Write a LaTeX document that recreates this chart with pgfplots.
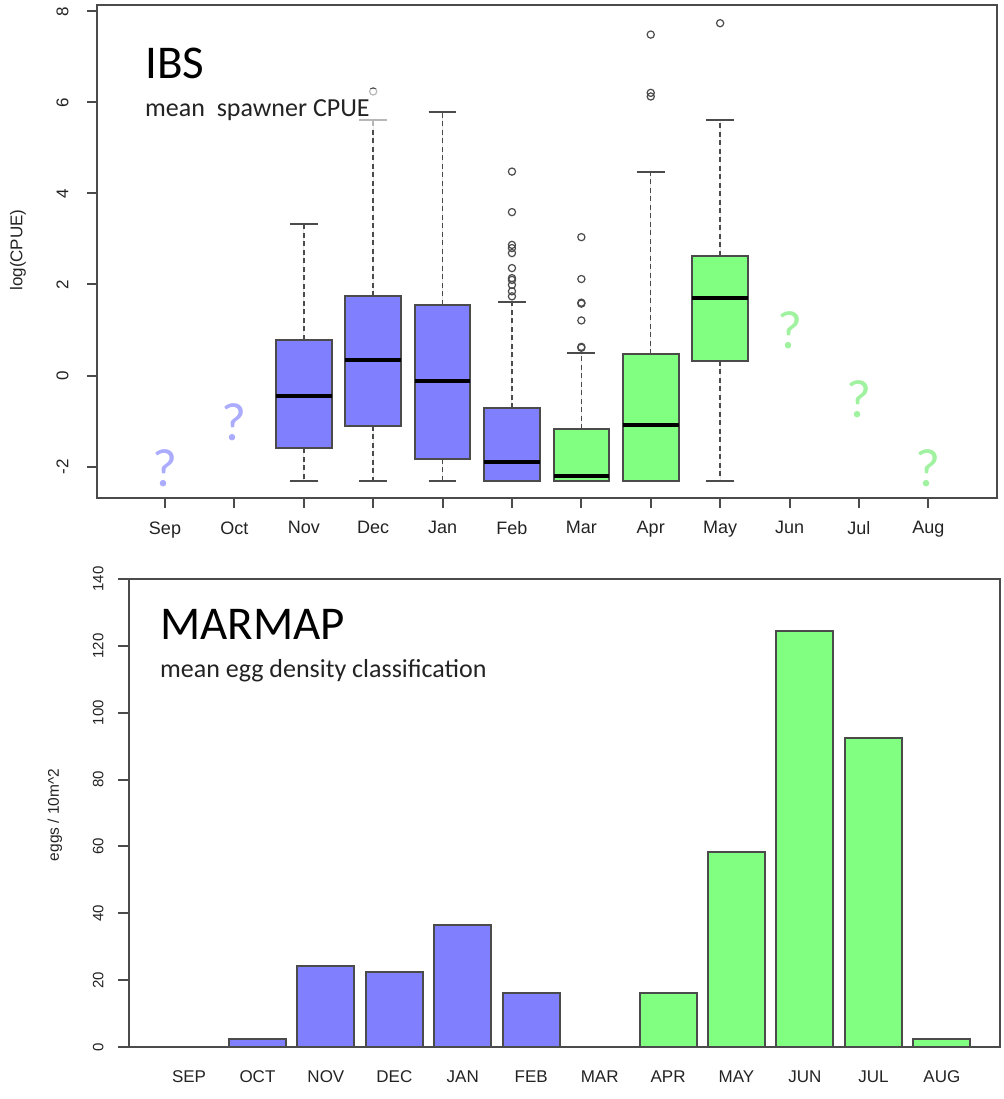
\documentclass[border=0pt]{standalone}
\usepackage{pgfplots}
\pgfplotsset{compat=1.18}
\usepgfplotslibrary{statistics}
\usepackage{fontspec}
\setmainfont{Liberation Sans}
\newfontfamily\calibri{Carlito}
\definecolor{bblue}{RGB}{128,128,255}
\definecolor{bgreen}{RGB}{128,255,128}
\definecolor{qblue}{RGB}{172,172,255}
\definecolor{qgreen}{RGB}{160,242,160}
\definecolor{axgray}{RGB}{75,75,75}
\definecolor{txtgray}{RGB}{35,35,35}

\pgfplotsset{
  boxplot/draw direction=y,
  boxplot/draw/lower whisker/.code={%
    \draw[axgray, line width=1.5pt, dash pattern=on 5pt off 3.5pt]
      (boxplot box cs:\pgfplotsboxplotvalue{lower quartile},0.5) --
      (boxplot box cs:\pgfplotsboxplotvalue{lower whisker},0.5);
    \draw[axgray, line width=2pt, solid]
      (boxplot whisker cs:\pgfplotsboxplotvalue{lower whisker},0) --
      (boxplot whisker cs:\pgfplotsboxplotvalue{lower whisker},1);
  },
  boxplot/draw/upper whisker/.code={%
    \draw[axgray, line width=1.5pt, dash pattern=on 5pt off 3.5pt]
      (boxplot box cs:\pgfplotsboxplotvalue{upper quartile},0.5) --
      (boxplot box cs:\pgfplotsboxplotvalue{upper whisker},0.5);
    \draw[axgray, line width=2pt, solid]
      (boxplot whisker cs:\pgfplotsboxplotvalue{upper whisker},0) --
      (boxplot whisker cs:\pgfplotsboxplotvalue{upper whisker},1);
  },
  boxplot/every median/.style={black, line width=4pt},
  boxplot/every box/.style={draw=axgray, line width=2pt},
  mybox/.style={mark=o, mark size=3.6pt, mark options={axgray, line width=1.2pt, solid}, draw=axgray, line width=2pt},
}

\begin{document}
\begin{tikzpicture}
\path[use as bounding box] (0pt,0pt) rectangle (1003pt,1099pt);

% ---------------- Top: IBS boxplots ----------------
\begin{axis}[
  at={(97pt,601pt)}, anchor=south west,
  width=900pt, height=493pt, scale only axis,
  xmin=-0.98, xmax=11.99, ymin=-2.69, ymax=8.14,
  xtick={0,1,2,3,4,5,6,7,8,9,10,11},
  xticklabels={Sep,Oct,Nov,Dec,Jan,Feb,Mar,Apr,May,Jun,Jul,Aug},
  ytick={-2,0,2,4,6,8},
  yticklabels={-2,0,2,4,6,8},
  tick align=outside, tick pos=left,
  major tick length=10pt,
  axis line style={axgray, line width=2pt},
  tick style={axgray, line width=2pt},
  xticklabel shift=10pt,
  yticklabel shift=15pt,
  xticklabel style={font=\fontsize{18}{18}\selectfont, text=txtgray},
  yticklabel style={font=\fontsize{17}{17}\selectfont, text=txtgray, rotate=90, anchor=south},
  ylabel={log(CPUE)},
  ylabel style={font=\fontsize{17}{17}\selectfont, text=txtgray, at={(axis description cs:-0.0878,0.503)}, anchor=center},
  clip=false,
]
% Nov
\addplot[mybox, fill=bblue, boxplot prepared={draw position=2, lower whisker=-2.31, lower quartile=-1.60, median=-0.44, upper quartile=0.785, upper whisker=3.33, box extend=0.8, whisker extend=0.4}] coordinates {};
% Dec
\addplot[mybox, fill=bblue, boxplot prepared={draw position=3, lower whisker=-2.31, lower quartile=-1.105, median=0.345, upper quartile=1.74, upper whisker=5.62, box extend=0.8, whisker extend=0.4}] table[row sep=\\, y index=0] {data\\ 6.24\\};
% Jan
\addplot[mybox, fill=bblue, boxplot prepared={draw position=4, lower whisker=-2.31, lower quartile=-1.83, median=-0.13, upper quartile=1.56, upper whisker=5.80, box extend=0.8, whisker extend=0.4}] coordinates {};
% Feb
\addplot[mybox, fill=bblue, boxplot prepared={draw position=5, lower whisker=-2.31, lower quartile=-2.31, median=-1.89, upper quartile=-0.72, upper whisker=1.61, box extend=0.8, whisker extend=0.4}] table[row sep=\\, y index=0] {data\\ 4.48\\ 3.59\\ 2.87\\ 2.80\\ 2.69\\ 2.36\\ 2.14\\ 2.10\\ 1.99\\ 1.85\\ 1.74\\};
% Mar
\addplot[mybox, fill=bgreen, boxplot prepared={draw position=6, lower whisker=-2.31, lower quartile=-2.31, median=-2.20, upper quartile=-1.18, upper whisker=0.49, box extend=0.8, whisker extend=0.4}] table[row sep=\\, y index=0] {data\\ 3.04\\ 2.12\\ 1.60\\ 1.58\\ 1.21\\ 0.63\\ 0.61\\};
% Apr
\addplot[mybox, fill=bgreen, boxplot prepared={draw position=7, lower whisker=-2.31, lower quartile=-2.31, median=-1.09, upper quartile=0.47, upper whisker=4.48, box extend=0.8, whisker extend=0.4}] table[row sep=\\, y index=0] {data\\ 7.49\\ 6.21\\ 6.13\\};
% May
\addplot[mybox, fill=bgreen, boxplot prepared={draw position=8, lower whisker=-2.31, lower quartile=0.32, median=1.70, upper quartile=2.63, upper whisker=5.62, box extend=0.8, whisker extend=0.4}] table[row sep=\\, y index=0] {data\\ 7.74\\};

\node[text=qblue, font=\calibri\fontsize{54}{54}\selectfont] at (axis cs:0,-2.03) {?};
\node[text=qblue, font=\calibri\fontsize{54}{54}\selectfont] at (axis cs:1,-1.02) {?};
\node[text=qgreen, font=\calibri\fontsize{54}{54}\selectfont] at (axis cs:9,1.00) {?};
\node[text=qgreen, font=\calibri\fontsize{54}{54}\selectfont] at (axis cs:10,-0.53) {?};
\node[text=qgreen, font=\calibri\fontsize{54}{54}\selectfont] at (axis cs:11,-2.03) {?};
\end{axis}

\fill[white, opacity=0.6] (140pt,972pt) rectangle (392pt,1010pt);
\node[anchor=base west, inner sep=0pt, text=black, font=\calibri\fontsize{47}{47}\selectfont] at (145pt,1020pt) {IBS};
\node[anchor=base west, inner sep=0pt, text=txtgray, font=\calibri\fontsize{26}{26}\selectfont] at (145pt,982pt) {mean\ \ spawner CPUE};

% ---------------- Bottom: MARMAP bars ----------------
\begin{axis}[
  at={(129pt,52pt)}, anchor=south west,
  width=871pt, height=468pt, scale only axis,
  xmin=-0.877, xmax=11.85, ymin=0, ymax=140,
  xtick={0,1,2,3,4,5,6,7,8,9,10,11},
  xticklabels={SEP,OCT,NOV,DEC,JAN,FEB,MAR,APR,MAY,JUN,JUL,AUG},
  ytick={0,20,40,60,80,100,120,140},
  yticklabels={0,20,40,60,80,100,120,140},
  tick align=outside, tick pos=left,
  major tick length=11pt,
  xtick style={draw=none},
  ytick style={axgray, line width=2pt},
  axis line style={axgray, line width=2pt},
  xticklabel shift=9pt,
  yticklabel shift=11pt,
  xticklabel style={font=\fontsize{17}{17}\selectfont, text=txtgray},
  yticklabel style={font=\fontsize{15}{15}\selectfont, text=txtgray, rotate=90, anchor=south},
  ylabel={eggs / 10m\textasciicircum 2},
  ylabel style={font=\fontsize{15.5}{15.5}\selectfont, text=txtgray, at={(axis description cs:-0.085,0.496)}, anchor=center},
]
\addplot[ybar, bar width=0.833, bar shift=0pt, fill=bblue, draw=axgray, line width=2pt] coordinates {(1,2.4) (2,24.1) (3,22.3) (4,36.5) (5,16.1)};
\addplot[ybar, bar width=0.833, bar shift=0pt, fill=bgreen, draw=axgray, line width=2pt] coordinates {(7,16.1) (8,58.2) (9,124.5) (10,92.4) (11,2.3)};
\end{axis}

\node[anchor=base west, inner sep=0pt, text=black, font=\calibri\fontsize{47}{47}\selectfont] at (160pt,459pt) {MARMAP};
\node[anchor=base west, inner sep=0pt, text=txtgray, font=\calibri\fontsize{26}{26}\selectfont] at (160pt,421pt) {mean egg density classification};
\end{tikzpicture}
\end{document}
